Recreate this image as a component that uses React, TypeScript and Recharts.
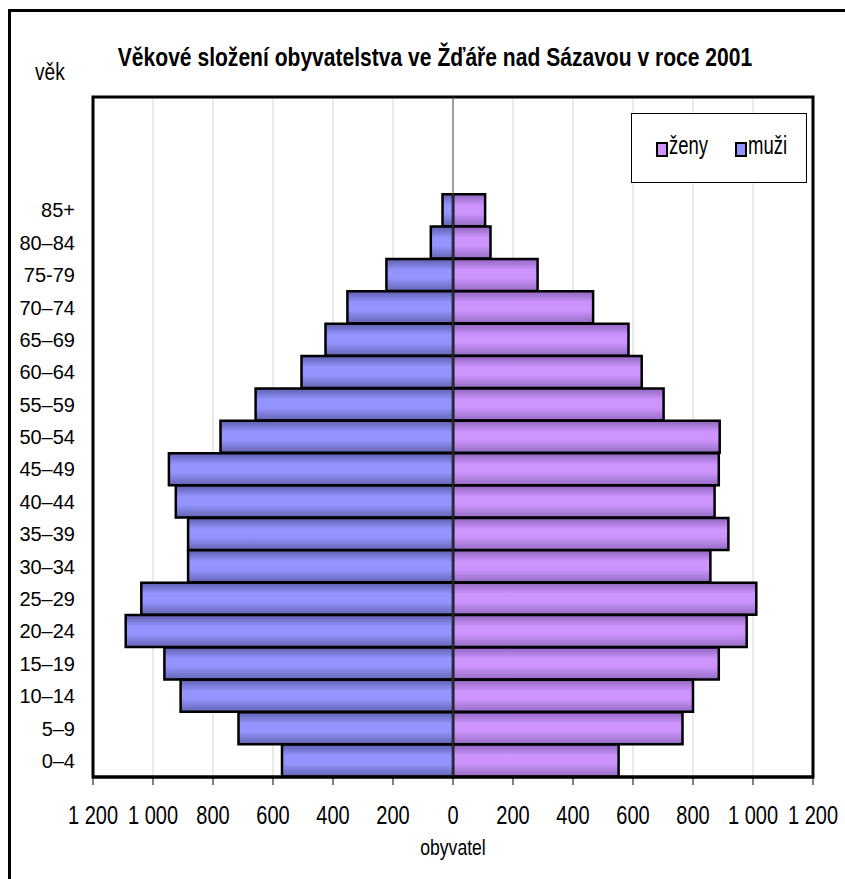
import React from 'react';
import {
  BarChart,
  Bar,
  XAxis,
  YAxis,
  CartesianGrid,
  ReferenceArea,
  ReferenceLine,
} from 'recharts';

// age groups, top to bottom (three empty rows sit above 85+ in the original)
const emptyRows = ['', ' ', '  '];
const ageGroups = [
  '85+', '80–84', '75-79', '70–74', '65–69', '60–64', '55–59', '50–54', '45–49',
  '40–44', '35–39', '30–34', '25–29', '20–24', '15–19', '10–14', '5–9', '0–4',
];
const men = [35, 74, 222, 352, 425, 505, 658, 775, 947, 924, 883, 883, 1039, 1091, 962, 908, 715, 570];
const women = [107, 125, 282, 467, 585, 629, 702, 889, 886, 872, 918, 858, 1011, 979, 886, 800, 765, 552];
const xTicks = [-1200, -1000, -800, -600, -400, -200, 0, 200, 400, 600, 800, 1000, 1200];

const data = [
  ...emptyRows.map(age => ({ age, men: null as number | null, women: null as number | null })),
  ...ageGroups.map((age, i) => ({ age, men: -men[i], women: women[i] })),
];

const formatTick = (v: number) => {
  const a = Math.abs(v);
  if (a >= 1000) return `${Math.floor(a / 1000)} ${String(a % 1000).padStart(3, '0')}`;
  return String(a);
};

const font = '"Liberation Sans", Arial, sans-serif';

const MEN_COLOR = '#9494ff';
const WOMEN_COLOR = '#cc94fc';

// the original uses a narrow face; squeeze Liberation Sans horizontally
const XTick = (props: any) => {
  const { x, y, payload } = props;
  return (
    <text
      x={x}
      y={y}
      dy="0.71em"
      textAnchor="middle"
      fontSize={25}
      fontFamily={font}
      fill="#000"
      transform={`translate(${x},0) scale(0.8,1) translate(${-x},0)`}
    >
      {formatTick(payload.value)}
    </text>
  );
};

const Squeezed: React.FC<{ scale: number; style: React.CSSProperties; children: React.ReactNode }> = ({ scale, style, children }) => (
  <div style={{ position: 'absolute', whiteSpace: 'nowrap', transform: `scaleX(${scale})`, ...style }}>{children}</div>
);

const App: React.FC = () => {
  return (
    <div style={{ position: 'absolute', left: 0, top: 0, width: 845, height: 879, background: '#fff', overflow: 'hidden' }}>
      {/* outer chart frame (only left and top edges are visible) */}
      <div style={{ position: 'absolute', left: 8, top: 9, right: -10, bottom: -10, borderLeft: '3px solid #000', borderTop: '3px solid #000' }} />

      <Squeezed scale={0.81} style={{ left: 0, top: 42, width: 870, textAlign: 'center', fontFamily: font, fontWeight: 700, fontSize: 26, color: '#000', transformOrigin: '435px 0' }}>
        Věkové složení obyvatelstva ve Žďáře nad Sázavou v roce 2001
      </Squeezed>
      <Squeezed scale={0.83} style={{ left: 35, top: 59, fontFamily: font, fontSize: 23, color: '#000', transformOrigin: '0 0' }}>věk</Squeezed>

      <BarChart
        width={845}
        height={879}
        data={data}
        layout="vertical"
        stackOffset="sign"
        barCategoryGap={0}
        margin={{ top: 97, right: 32, bottom: 42, left: 8 }}
        style={{ position: 'absolute', left: 0, top: 0 }}
      >
        <defs>
          <linearGradient id="gMen" x1="0" y1="0" x2="0" y2="1">
            <stop offset="0%" stopColor="#5e5eae" />
            <stop offset="35%" stopColor={MEN_COLOR} />
            <stop offset="60%" stopColor={MEN_COLOR} />
            <stop offset="100%" stopColor="#6464b2" />
          </linearGradient>
          <linearGradient id="gWomen" x1="0" y1="0" x2="0" y2="1">
            <stop offset="0%" stopColor="#9064c0" />
            <stop offset="35%" stopColor={WOMEN_COLOR} />
            <stop offset="60%" stopColor={WOMEN_COLOR} />
            <stop offset="100%" stopColor="#946cc4" />
          </linearGradient>
        </defs>
        <CartesianGrid horizontal={false} stroke="#d4d4d4" strokeWidth={1} />
        <XAxis
          type="number"
          domain={[-1200, 1200]}
          ticks={xTicks}
          interval={0}
          height={60}
          axisLine={{ stroke: '#000', strokeWidth: 3 }}
          tickLine={{ stroke: '#000', strokeWidth: 1 }}
          tickSize={8}
          tickMargin={21}
          tick={<XTick />}
        />
        <YAxis
          type="category"
          dataKey="age"
          width={85}
          axisLine={false}
          tickLine={false}
          tickSize={0}
          tickMargin={18}
          interval={0}
          tick={{ fill: '#000', fontSize: 20, fontFamily: font }}
        />
        <ReferenceLine x={0} stroke="#555" strokeWidth={1} />
        <Bar dataKey="women" name="ženy" stackId="a" fill="url(#gWomen)" stroke="#000" strokeWidth={2.5} isAnimationActive={false} />
        <Bar dataKey="men" name="muži" stackId="a" fill="url(#gMen)" stroke="#000" strokeWidth={2.5} isAnimationActive={false} />
        <ReferenceArea x1={-1200} x2={1200} fill="none" stroke="#000" strokeWidth={3} fillOpacity={0} />
      </BarChart>

      {/* legend */}
      <div style={{ position: 'absolute', left: 631, top: 113, width: 174, height: 68, border: '1px solid #000', background: '#fff' }}>
        <span style={{ position: 'absolute', left: 24, top: 28, width: 8, height: 11, border: '2px solid #000', background: WOMEN_COLOR }} />
        <Squeezed scale={0.74} style={{ left: 37, top: 17, fontFamily: font, fontSize: 25, color: '#000', transformOrigin: '0 0' }}>ženy</Squeezed>
        <span style={{ position: 'absolute', left: 103, top: 28, width: 8, height: 11, border: '2px solid #000', background: MEN_COLOR }} />
        <Squeezed scale={0.74} style={{ left: 116, top: 17, fontFamily: font, fontSize: 25, color: '#000', transformOrigin: '0 0' }}>muži</Squeezed>
      </div>

      <Squeezed scale={0.8} style={{ left: 353, width: 200, top: 835, textAlign: 'center', fontFamily: font, fontSize: 22, color: '#000', transformOrigin: '100px 0' }}>obyvatel</Squeezed>
    </div>
  );
};

export default App;
